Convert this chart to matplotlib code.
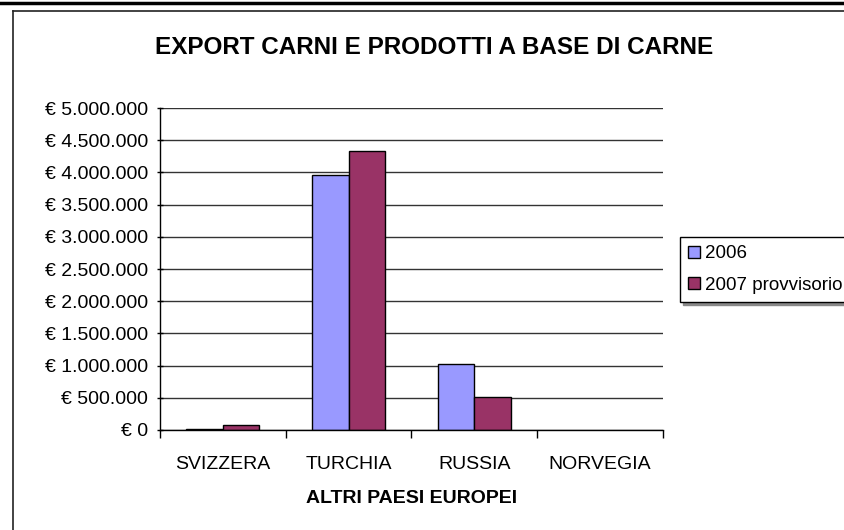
import matplotlib
matplotlib.use("Agg")
import matplotlib.pyplot as plt
from matplotlib.ticker import FuncFormatter
import numpy as np

categories = ["SVIZZERA", "TURCHIA", "RUSSIA", "NORVEGIA"]
series_names = ["2006", "2007 provvisorio"]
values_2006 = [20000, 3960000, 1030000, 0]
values_2007 = [70000, 4340000, 510000, 0]
y_ticks = [0, 500000, 1000000, 1500000, 2000000, 2500000, 3000000, 3500000, 4000000, 4500000, 5000000]

plt.rcParams['font.family'] = ['Liberation Sans', 'DejaVu Sans']

W, H = 845, 530
fig = plt.figure(figsize=(W / 100, H / 100), dpi=100)

# outer decorations (figure coords)
fig.add_artist(plt.Line2D([0, 1], [1 - 2.5 / H, 1 - 2.5 / H], color='black', lw=2.5, transform=fig.transFigure))
fig.add_artist(plt.Line2D([13 / W, 1], [1 - 11 / H, 1 - 11 / H], color='#222222', lw=1.2, transform=fig.transFigure))
fig.add_artist(plt.Line2D([13 / W, 13 / W], [0, 1 - 11 / H], color='#222222', lw=1.2, transform=fig.transFigure))

ax = fig.add_axes([160 / W, 1 - 430 / H, (663 - 160) / W, (430 - 108) / H])

x = np.arange(len(categories))
bw = 0.29
edges_2006 = ['black' if v > 0 else 'none' for v in values_2006]
edges_2007 = ['black' if v > 0 else 'none' for v in values_2007]
ax.bar(x - bw / 2, values_2006, bw, color='#9999FF', edgecolor=edges_2006, linewidth=1.0, label=series_names[0], zorder=3)
ax.bar(x + bw / 2, values_2007, bw, color='#993366', edgecolor=edges_2007, linewidth=1.0, label=series_names[1], zorder=3)

ax.set_xlim(-0.5, len(categories) - 0.5)
ax.set_ylim(0, 5000000)
ax.set_yticks(y_ticks)
ax.yaxis.set_major_formatter(FuncFormatter(lambda v, p: "€ " + format(int(v), ",").replace(",", ".")))
ax.grid(axis='y', color='#333333', linewidth=1.0, zorder=0)

ax.set_xticks(x)
ax.set_xticklabels(categories)
ax.set_xticks(np.arange(-0.5, len(categories), 1.0), minor=True)
ax.tick_params(axis='x', which='major', length=0, pad=19, labelsize=14)
ax.tick_params(axis='x', which='minor', length=6, direction='out', width=1)
ax.tick_params(axis='y', length=5, direction='inout', width=1, labelsize=14, pad=6)

for s in ['top', 'right']:
    ax.spines[s].set_visible(False)
ax.spines['left'].set_linewidth(1.0)
ax.spines['bottom'].set_linewidth(1.0)
ax.spines['left'].set_zorder(4)
ax.spines['bottom'].set_zorder(4)

ax.set_xlabel("ALTRI PAESI EUROPEI", fontsize=14, fontweight='bold', labelpad=12)

fig.text(434 / W, 1 - 47 / H, "EXPORT CARNI E PRODOTTI A BASE DI CARNE", fontsize=17.5,
         fontweight='bold', ha='center', va='center')

leg = ax.legend(loc='upper left', bbox_to_anchor=(680 / W, 1 - 237 / H), bbox_transform=fig.transFigure,
                frameon=True, fancybox=False, shadow={'color': '#888888', 'alpha': 1.0}, fontsize=13.5,
                handlelength=0.6, handleheight=0.6,
                handletextpad=0.3, borderpad=0.45, labelspacing=0.75, borderaxespad=0)
leg.get_frame().set_edgecolor('black')
leg.get_frame().set_linewidth(1.0)

fig.savefig("out.png", dpi=100)
